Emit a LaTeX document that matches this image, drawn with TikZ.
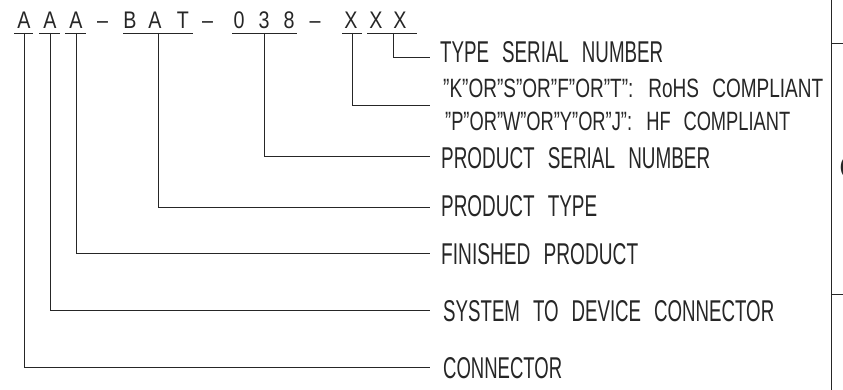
\documentclass[tikz,border=0pt]{standalone}
\usepackage{fontspec}
\setmainfont{Liberation Sans}[WordSpace=2.5]
\newfontfamily\codefont{Liberation Sans}[FakeStretch=0.82]
\newcommand\fitlbl[3]{\resizebox{#1pt}{#2pt}{#3}}
\begin{document}
\begin{tikzpicture}[x=1pt,y=-1pt,
  ln/.style={draw=black!85, line width=0.9pt},
  lbl/.style={anchor=west, inner sep=0pt, text=black!85},
  code/.style={anchor=base, inner sep=0pt, text=black!85, font=\codefont\fontsize{24}{24}\selectfont}]
\useasboundingbox (0,0) rectangle (843,390);
% code characters
\node[code] (cA1) at (24,28.8) {A};
\node[code] (cA2) at (50,28.8) {A};
\node[code] (cA3) at (76,28.8) {A};
\node[code] (cD1) at (102.5,28.8) {–};
\node[code] (cB)  at (130,28.8) {B};
\node[code] (cA4) at (155,28.8) {A};
\node[code] (cT)  at (183,28.8) {T};
\node[code] (cD2) at (207.5,28.8) {–};
\node[code] (c0)  at (239,28.8) {0};
\node[code] (c3)  at (264,28.8) {3};
\node[code] (c8)  at (289,28.8) {8};
\node[code] (cD3) at (315,28.8) {–};
\node[code] (cX1) at (351,28.8) {X};
\node[code] (cX2) at (376,28.8) {X};
\node[code] (cX3) at (400,28.8) {X};
% underlines
\draw[ln] (14,33) -- (33,33);
\draw[ln] (39,33) -- (60,33);
\draw[ln] (65,33) -- (86,33);
\draw[ln] (123,33) -- (193,33);
\draw[ln] (232,33) -- (297,33);
\draw[ln] (342,33) -- (362,33);
\draw[ln] (367,33) -- (417,33);
% connector start points (underline midpoints)
\coordinate (uA1) at (24,33);
\coordinate (uA2) at (50,33);
\coordinate (uA3) at (76,33);
\coordinate (uBAT) at (158,33);
\coordinate (u038) at (264,33);
\coordinate (uX1) at (352,33);
\coordinate (uXX) at (393,33);
% connector end points
\coordinate (eA1) at (430,367);
\coordinate (eA2) at (430,310);
\coordinate (eA3) at (430,253);
\coordinate (eBAT) at (430,207);
\coordinate (e038) at (430,156);
\coordinate (eX1) at (430,105);
\coordinate (eXX) at (430,57);
% labels
\node[lbl] (lType) at (440,52.5) {\fitlbl{223}{21}{TYPE SERIAL NUMBER}};
\node[lbl] (lK) at (443,88) {\fitlbl{380}{18.5}{"K"OR"S"OR"F"OR"T": RoHS COMPLIANT}};
\node[lbl] (lP) at (445,121) {\fitlbl{345}{18.5}{"P"OR"W"OR"Y"OR"J": HF COMPLIANT}};
\node[lbl] (lPS) at (441,158) {\fitlbl{269}{21}{PRODUCT SERIAL NUMBER}};
\node[lbl] (lPT) at (441,206) {\fitlbl{156}{21}{PRODUCT TYPE}};
\node[lbl] (lFP) at (441,254) {\fitlbl{197}{21}{FINISHED PRODUCT}};
\node[lbl] (lSD) at (443,311) {\fitlbl{331}{21}{SYSTEM TO DEVICE CONNECTOR}};
\node[lbl] (lC) at (443,368) {\fitlbl{119}{21}{CONNECTOR}};
% connectors
\draw[ln] (uA1) |- (eA1);
\draw[ln] (uA2) |- (eA2);
\draw[ln] (uA3) |- (eA3);
\draw[ln] (uBAT) |- (eBAT);
\draw[ln] (u038) |- (e038);
\draw[ln] (uX1) |- (eX1);
\draw[ln] (uXX) |- (eXX);
% frame at right edge
\draw[ln] (831,0) -- (831,390);
\draw[ln] (831,43) -- (843,43);
\draw[ln] (831,294) -- (843,294);
\node[lbl] (cut) at (839,168) {\resizebox{!}{24pt}{C}};
\end{tikzpicture}
\end{document}
